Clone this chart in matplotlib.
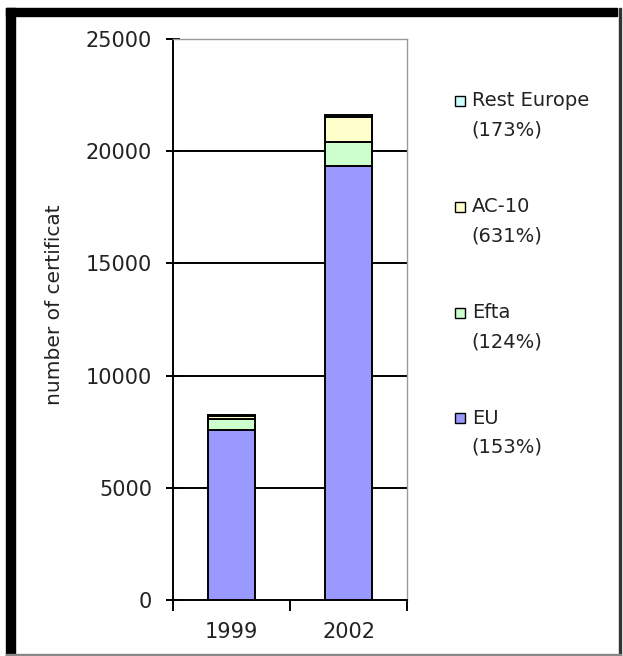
import matplotlib
matplotlib.use("Agg")
import matplotlib.pyplot as plt
from matplotlib.patches import Rectangle

years = ["1999", "2002"]
series = ["EU", "Efta", "AC-10", "Rest Europe"]
growth = ["153%", "124%", "631%", "173%"]
eu = [7570, 19340]
efta = [480, 1070]
ac10 = [150, 1110]
rest_europe = [40, 85]
colors = ["#9999FF", "#CCFFCC", "#FFFFCC", "#CCFFFF"]

plt.rcParams["font.family"] = "DejaVu Sans"
W, H = 623, 656

fig = plt.figure(figsize=(W / 100, H / 100), dpi=100)
ax = fig.add_axes([173 / W, 1 - 600 / H, 234 / W, 561 / H])

x = [0, 1]
bottom = [0, 0]
for vals, col in zip([eu, efta, ac10, rest_europe], colors):
    ax.bar(x, vals, width=0.4, bottom=bottom, color=col, edgecolor="black",
           linewidth=1.4, zorder=3)
    bottom = [b + v for b, v in zip(bottom, vals)]

ax.set_xlim(-0.5, 1.5)
ax.set_ylim(0, 25000)
ax.set_yticks(range(0, 25001, 5000))
ax.set_xticks(x)
ax.set_xticklabels(years)
ax.set_xticks([-0.5, 0.5, 1.5], minor=True)

for y in range(5000, 25000, 5000):
    ax.axhline(y, color="black", linewidth=1.4, zorder=1)

for s in ["top", "right"]:
    ax.spines[s].set_color("#999999")
    ax.spines[s].set_linewidth(1.0)
for s in ["left", "bottom"]:
    ax.spines[s].set_color("black")
    ax.spines[s].set_linewidth(1.4)

ax.tick_params(axis="y", direction="inout", length=10, width=1.4,
               labelsize=15, pad=10, colors="black", labelcolor="#222222")
ax.tick_params(axis="x", which="major", length=0, labelsize=15, pad=16,
               labelcolor="#222222")
ax.tick_params(axis="x", which="minor", direction="out", length=8, width=1.4)

fig.text(55 / W, 1 - 305 / H, "number of certificat", rotation=90,
         ha="center", va="center", fontsize=14.5, color="#222222")

# legend, top entry first, square level with the first text line
legend_y = [418, 313, 207, 101]
for name, g, col, ly in zip(series, growth, colors, legend_y):
    fig.patches.append(Rectangle((455 / W, 1 - (ly + 5) / H), 10 / W, 10 / H,
                                 transform=fig.transFigure, facecolor=col,
                                 edgecolor="black", linewidth=1.0))
    fig.text(472 / W, 1 - ly / H, name, ha="left", va="center",
             fontsize=14, color="#222222")
    fig.text(471 / W, 1 - (ly + 29) / H, f"({g})", ha="left", va="center",
             fontsize=14, color="#222222")

# frame around the picture: thick black top/left, thin right/bottom
fig.patches.append(Rectangle((6 / W, 1 - 16 / H), 611 / W, 8 / H,
                             transform=fig.transFigure, color="black"))
fig.patches.append(Rectangle((6 / W, 0), 9 / W, 1 - 8 / H,
                             transform=fig.transFigure, color="black"))
fig.patches.append(Rectangle((619 / W, 0), 2 / W, 1 - 8 / H,
                             transform=fig.transFigure, color="#333333"))
fig.patches.append(Rectangle((6 / W, 0), 615 / W, 2 / H,
                             transform=fig.transFigure, color="#888888"))

plt.savefig("out.png", dpi=100)
